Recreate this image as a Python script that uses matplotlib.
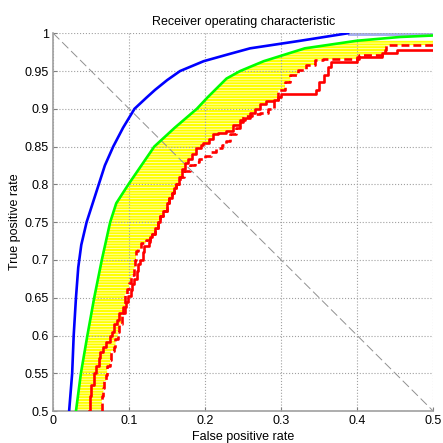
import numpy as np
import matplotlib
matplotlib.use("Agg")
import matplotlib.pyplot as plt
from matplotlib.ticker import FormatStrFormatter

plt.rcParams['font.family'] = ['Liberation Sans', 'DejaVu Sans']
plt.rcParams['hatch.linewidth'] = 0.45

# blue curve (best model)
blue_fpr = [0.021, 0.025, 0.027, 0.030, 0.033, 0.037, 0.044, 0.052, 0.060, 0.068, 0.079,
            0.092, 0.107, 0.123, 0.134, 0.150, 0.167, 0.198, 0.230, 0.259, 0.325, 0.388]
blue_tpr = [0.500, 0.550, 0.600, 0.650, 0.690, 0.720, 0.750, 0.775, 0.800, 0.825, 0.850,
            0.875, 0.900, 0.915, 0.925, 0.938, 0.950, 0.963, 0.972, 0.980, 0.990, 1.000]

# green curve (upper edge of the band)
green_fpr = [0.030, 0.0365, 0.045, 0.054, 0.064, 0.075, 0.083, 0.099, 0.133, 0.160, 0.189,
             0.203, 0.228, 0.246, 0.277, 0.331, 0.399, 0.456, 0.500]
green_tpr = [0.500, 0.550, 0.600, 0.650, 0.700, 0.750, 0.775, 0.800, 0.850, 0.875, 0.900,
             0.915, 0.940, 0.950, 0.963, 0.980, 0.990, 0.995, 0.997]

# red solid step curve
red_fpr = [0.047, 0.048, 0.050, 0.054, 0.056, 0.060, 0.061, 0.066, 0.070, 0.0745, 0.078,
           0.080, 0.084, 0.086, 0.092, 0.096, 0.098, 0.102, 0.104, 0.106, 0.110, 0.112,
           0.114, 0.118, 0.120, 0.126, 0.128, 0.130, 0.134, 0.138, 0.140, 0.145, 0.150,
           0.152, 0.156, 0.159, 0.161, 0.165, 0.170, 0.174, 0.178, 0.182, 0.188, 0.194,
           0.197, 0.205, 0.210, 0.217, 0.228, 0.236, 0.246, 0.252, 0.259, 0.266, 0.272,
           0.280, 0.290, 0.296, 0.300, 0.342, 0.346, 0.350, 0.356, 0.362, 0.366, 0.399,
           0.400, 0.430, 0.432, 0.450, 0.452, 0.500]
red_tpr = [0.500, 0.520, 0.535, 0.550, 0.560, 0.570, 0.578, 0.585, 0.592, 0.600, 0.605,
           0.615, 0.620, 0.630, 0.638, 0.645, 0.652, 0.660, 0.668, 0.675, 0.685, 0.695,
           0.700, 0.710, 0.718, 0.724, 0.730, 0.735, 0.742, 0.750, 0.758, 0.765, 0.775,
           0.782, 0.788, 0.795, 0.800, 0.810, 0.820, 0.828, 0.834, 0.840, 0.848, 0.852,
           0.855, 0.860, 0.866, 0.868, 0.870, 0.878, 0.885, 0.888, 0.894, 0.900, 0.906,
           0.910, 0.912, 0.916, 0.919, 0.919, 0.925, 0.935, 0.945, 0.955, 0.962, 0.962,
           0.968, 0.968, 0.974, 0.974, 0.978, 0.978]

# red dashed step curve
dash_fpr = [0.064, 0.064, 0.066, 0.067, 0.070, 0.071, 0.075, 0.076, 0.080, 0.082, 0.085,
            0.087, 0.090, 0.090, 0.094, 0.095, 0.094, 0.097, 0.100, 0.103, 0.106, 0.108,
            0.109, 0.112, 0.116, 0.122, 0.128, 0.130, 0.134, 0.138, 0.140, 0.145, 0.150,
            0.152, 0.156, 0.159, 0.162, 0.167, 0.172, 0.180, 0.186, 0.192, 0.200, 0.208,
            0.214, 0.222, 0.228, 0.232, 0.240, 0.246, 0.250, 0.262, 0.272, 0.282, 0.290,
            0.296, 0.305, 0.312, 0.322, 0.332, 0.345, 0.355, 0.399, 0.402, 0.432, 0.436,
            0.438, 0.500]
dash_tpr = [0.500, 0.520, 0.530, 0.540, 0.548, 0.560, 0.568, 0.580, 0.585, 0.595, 0.605,
            0.615, 0.620, 0.630, 0.635, 0.645, 0.655, 0.662, 0.670, 0.680, 0.690, 0.700,
            0.712, 0.715, 0.722, 0.726, 0.730, 0.735, 0.742, 0.750, 0.758, 0.765, 0.775,
            0.782, 0.788, 0.795, 0.800, 0.810, 0.818, 0.825, 0.830, 0.834, 0.838, 0.843,
            0.848, 0.852, 0.858, 0.866, 0.875, 0.882, 0.890, 0.893, 0.895, 0.900, 0.912,
            0.925, 0.935, 0.945, 0.952, 0.958, 0.964, 0.966, 0.966, 0.971, 0.971, 0.978,
            0.984, 0.984]


def stairs(x, y):
    # ROC staircase: move along fpr first, then up in tpr
    x = np.asarray(x)
    y = np.asarray(y)
    sx = np.empty(2 * len(x) - 1)
    sy = np.empty(2 * len(x) - 1)
    sx[0::2] = x
    sy[0::2] = y
    sx[1::2] = x[1:]
    sy[1::2] = y[:-1]
    return sx, sy


rsx, rsy = stairs(red_fpr, red_tpr)
dsx, dsy = stairs(dash_fpr, dash_tpr)

fig = plt.figure(figsize=(4.43, 4.43), dpi=100)
ax = fig.add_axes([0.120, 0.072, 0.858, 0.853])

# yellow band between green and the red curves
yg = np.linspace(0.5, 0.99, 800)
gx = np.interp(yg, green_tpr, green_fpr)
rx = np.interp(yg, rsy, rsx)
dx = np.interp(yg, dsy, dsx)
edge = np.where(yg < 0.8, dx, np.minimum(rx, dx))
ax.fill_betweenx(yg, gx, edge, where=edge > gx, facecolor='#ffff00',
                 edgecolor='white', hatch='------', linewidth=0, zorder=1)

ax.fill_between([0.388, 0.5], [0.996, 0.996], [1.0, 1.0], color='#a8b0f0', lw=0, zorder=1)

ax.plot([0, 0.5], [1, 0.5], color='#909090', lw=0.7, dashes=(9, 4), zorder=2)
ax.plot(blue_fpr, blue_tpr, color='#0000ff', lw=1.9, zorder=4)
ax.plot(green_fpr, green_tpr, color='#00ff00', lw=1.9, zorder=3)
ax.plot(dsx, dsy, color='#ff0000', lw=1.9, dashes=(3, 1.5), zorder=3)
ax.plot(rsx, rsy, color='#ff0000', lw=1.9, zorder=3)

ax.set_xlim(0, 0.5)
ax.set_ylim(0.5, 1.0)
ax.set_xticks(np.arange(0, 0.51, 0.1))
ax.set_yticks(np.arange(0.5, 1.001, 0.05))
ax.xaxis.set_major_formatter(FormatStrFormatter('%g'))
ax.yaxis.set_major_formatter(FormatStrFormatter('%g'))
ax.grid(True, linestyle=':', color='#a0a0a0', lw=0.8)
ax.tick_params(direction='in', length=3, color='#808080', labelsize=9, pad=3)
for s in ['top', 'right']:
    ax.spines[s].set_visible(False)
for s in ['left', 'bottom']:
    ax.spines[s].set_color('#a0a0a0')
    ax.spines[s].set_linewidth(1.2)

ax.set_title('Receiver operating characteristic', fontsize=9, pad=6)
ax.set_xlabel('False positive rate', fontsize=9, labelpad=3)
ax.set_ylabel('True positive rate', fontsize=9)
ax.yaxis.set_label_coords(-0.085, 0.5)

fig.savefig('out.png', dpi=100)
